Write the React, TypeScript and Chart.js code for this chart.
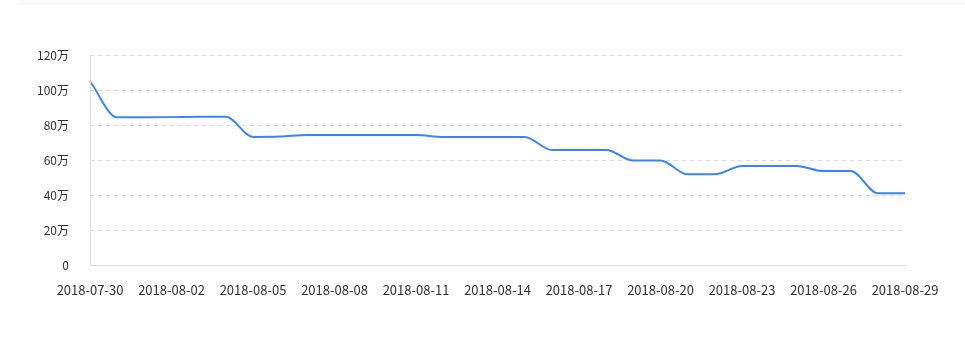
import React, { useEffect, useRef } from "react";
import { Chart, registerables } from "chart.js";

Chart.register(...registerables);

const dates = [
  "2018-07-30", "2018-07-31", "2018-08-01", "2018-08-02", "2018-08-03", "2018-08-04",
  "2018-08-05", "2018-08-06", "2018-08-07", "2018-08-08", "2018-08-09", "2018-08-10",
  "2018-08-11", "2018-08-12", "2018-08-13", "2018-08-14", "2018-08-15", "2018-08-16",
  "2018-08-17", "2018-08-18", "2018-08-19", "2018-08-20", "2018-08-21", "2018-08-22",
  "2018-08-23", "2018-08-24", "2018-08-25", "2018-08-26", "2018-08-27", "2018-08-28",
  "2018-08-29",
];

// values in 万
const values = [
  105, 84.4, 84.4, 84.5, 84.7, 84.7,
  73.2, 73.4, 74.3, 74.3, 74.3, 74.3,
  74.3, 73.1, 73.1, 73.1, 73.1, 65.7,
  65.7, 65.7, 59.7, 59.7, 51.8, 51.8,
  56.6, 56.6, 56.6, 53.7, 53.7, 41,
  41,
];

const yTicks = [0, 20, 40, 60, 80, 100, 120];

const FONT = "'Noto Sans CJK SC', 'Noto Sans', sans-serif";

export default function App() {
  const ref = useRef<HTMLCanvasElement | null>(null);

  useEffect(() => {
    document.body.style.margin = "0";
    if (!ref.current) return;
    const axisLine = {
      id: "axisLine",
      afterDatasetsDraw: (c: any) => {
        const { ctx, chartArea } = c;
        ctx.save();
        ctx.strokeStyle = "#e0e0e0";
        ctx.lineWidth = 1;
        ctx.setLineDash([]);
        ctx.beginPath();
        ctx.moveTo(Math.round(chartArea.left) + 0.5, chartArea.top);
        ctx.lineTo(Math.round(chartArea.left) + 0.5, chartArea.bottom);
        ctx.stroke();
        ctx.restore();
      },
      beforeDatasetsDraw: (c: any) => {
        const { ctx, chartArea } = c;
        ctx.save();
        ctx.strokeStyle = "#e0e0e0";
        ctx.lineWidth = 1;
        ctx.setLineDash([]);
        ctx.beginPath();
        ctx.moveTo(Math.round(chartArea.left) + 0.5, chartArea.top);
        ctx.lineTo(Math.round(chartArea.left) + 0.5, chartArea.bottom);
        ctx.stroke();
        ctx.restore();
      },
    };
    const chart = new Chart(ref.current, {
      type: "line",
      data: {
        labels: dates,
        datasets: [
          {
            data: values,
            borderColor: "#3c84f6",
            borderWidth: 2,
            pointRadius: 0,
            pointHoverRadius: 0,
            fill: false,
            cubicInterpolationMode: "monotone",
          },
        ],
      },
      options: {
        animation: false,
        responsive: false,
        maintainAspectRatio: false,
        layout: { padding: { top: 55, right: 60, left: 0, bottom: 0 } },
        plugins: { legend: { display: false }, tooltip: { enabled: false } },
        scales: {
          x: {
            offset: false,
            grid: { display: false, drawTicks: false },
            border: { display: true, color: "#e0e0e0", width: 1 },
            ticks: {
              autoSkip: false,
              maxRotation: 0,
              padding: 17,
              color: "#333",
              font: { family: FONT, size: 13 },
              callback: (_v: any, i: number) => (i % 3 === 0 ? dates[i] : null),
            },
            afterFit: (s: any) => {
              s.height = 73;
            },
          },
          y: {
            min: 0,
            max: 120,
            grid: {
              color: (ctx: any) => (ctx.tick && ctx.tick.value === 0 ? "rgba(0,0,0,0)" : "#dcdcdc"),
              drawTicks: false,
              lineWidth: 1,
            },
            border: { display: false, dash: [4, 4] },
            ticks: {
              stepSize: 20,
              padding: 21,
              color: "#333",
              font: { family: FONT, size: 12 },
              callback: (v: any) => (v === 0 ? "0" : v + "万"),
            },
            afterBuildTicks: (s: any) => {
              s.ticks = yTicks.map((v) => ({ value: v }));
            },
            afterFit: (s: any) => {
              s.width = 90;
            },
          },
        },
      },
      plugins: [axisLine],
    });
    return () => chart.destroy();
  }, []);

  return (
    <div style={{ position: "relative", width: 965, height: 338, background: "#fff" }}>
      <div
        style={{ position: "absolute", left: 20, top: 0, width: 945, height: 5, background: "#f8f8f8" }}
      />
      <canvas ref={ref} width={965} height={338} style={{ position: "absolute", left: 0, top: 0 }} />
    </div>
  );
}
